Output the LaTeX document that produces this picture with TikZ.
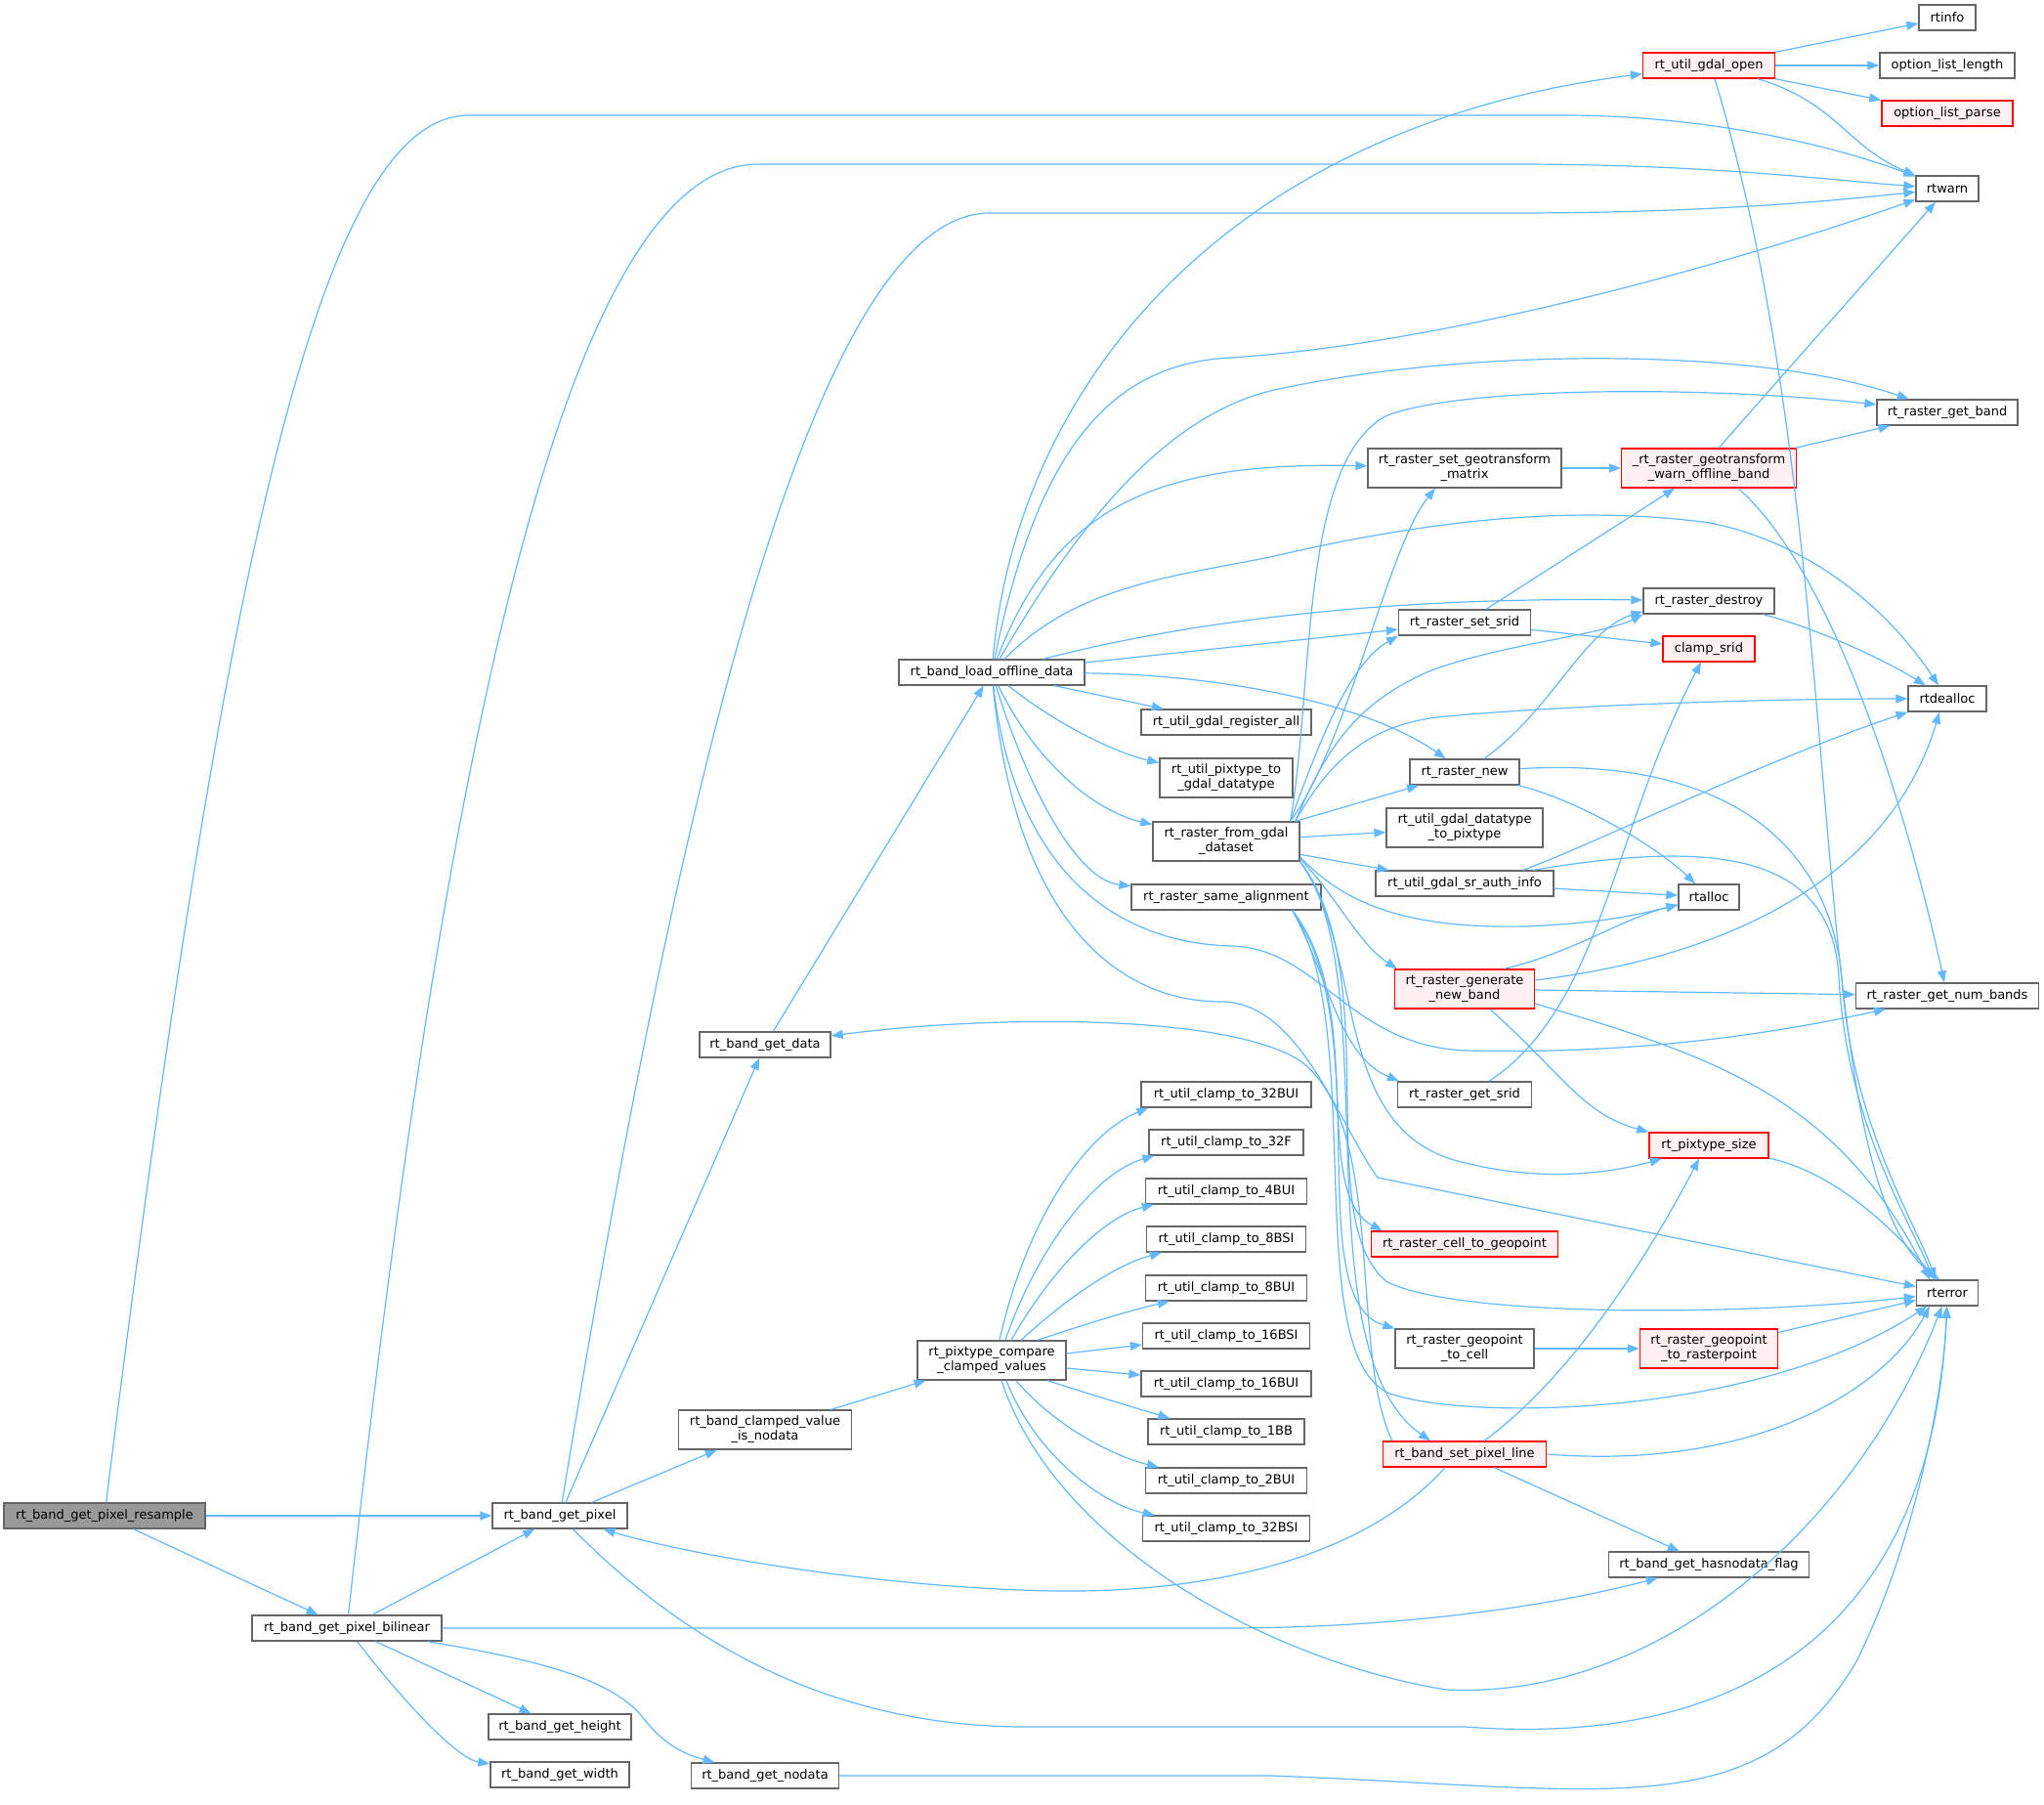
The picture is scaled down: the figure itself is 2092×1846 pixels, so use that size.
\documentclass[tikz,border=0pt]{standalone}
\usepackage{fontspec}
\setmainfont{DejaVu Sans}
\usetikzlibrary{arrows.meta}
\definecolor{edgecol}{RGB}{99,184,255}
\definecolor{nodeborder}{RGB}{102,102,102}
\definecolor{rootfill}{RGB}{153,153,153}
\definecolor{redfill}{RGB}{255,240,240}
\definecolor{redborder}{RGB}{255,0,0}
\newcommand{\nfont}{\fontsize{13}{15}\selectfont}
\begin{document}
\begin{tikzpicture}[x=1pt,y=-1pt,
  nbox/.style={draw=nodeborder, fill=white, line width=1.3pt, minimum height=26pt, inner sep=0pt, font=\nfont, align=center},
  tall/.style={minimum height=40pt},
  redbox/.style={nbox, draw=redborder, fill=redfill},
  rootbox/.style={nbox, fill=rootfill},
  conn/.style={draw=edgecol, line width=1.2pt, -{Triangle[length=12pt,width=9pt]}}]
\fill[white] (0,0) rectangle (2092,1846);
\useasboundingbox (0,0) rectangle (2092,1846);

% ---------- nodes ----------
\node[rootbox, minimum width=206pt] (res) at (107,1551) {rt\_band\_get\_pixel\_resample};
\node[nbox, minimum width=194pt] (bil) at (355,1666) {rt\_band\_get\_pixel\_bilinear};
\node[nbox, minimum width=138pt] (gp) at (573,1551) {rt\_band\_get\_pixel};
\node[nbox, minimum width=146pt] (ht) at (573,1767) {rt\_band\_get\_height};
\node[nbox, minimum width=142pt] (wd) at (573,1816) {rt\_band\_get\_width};
\node[nbox, minimum width=134pt] (gd) at (783,1069) {rt\_band\_get\_data};
\node[nbox, tall, minimum width=177pt] (cvn) at (783,1463) {rt\_band\_clamped\_value\\\_is\_nodata};
\node[nbox, minimum width=151pt] (nd) at (783,1817) {rt\_band\_get\_nodata};
\node[nbox, minimum width=190pt] (lo) at (1015,688) {rt\_band\_load\_offline\_data};
\node[nbox, tall, minimum width=152pt] (cmp) at (1015,1392) {rt\_pixtype\_compare\\\_clamped\_values};
\node[nbox, minimum width=174pt] (gra) at (1255,739) {rt\_util\_gdal\_register\_all};
\node[nbox, tall, minimum width=136pt] (p2g) at (1255,796) {rt\_util\_pixtype\_to\\\_gdal\_datatype};
\node[nbox, tall, minimum width=150pt] (fg) at (1255,861) {rt\_raster\_from\_gdal\\\_dataset};
\node[nbox, minimum width=194pt] (sa) at (1255,918) {rt\_raster\_same\_alignment};
\node[nbox, minimum width=174pt] (c1) at (1255,1120) {rt\_util\_clamp\_to\_32BUI};
\node[nbox, minimum width=158pt] (c2) at (1255,1169) {rt\_util\_clamp\_to\_32F};
\node[nbox, minimum width=165pt] (c3) at (1255,1219) {rt\_util\_clamp\_to\_4BUI};
\node[nbox, minimum width=163pt] (c4) at (1255,1268) {rt\_util\_clamp\_to\_8BSI};
\node[nbox, minimum width=165pt] (c5) at (1255,1318) {rt\_util\_clamp\_to\_8BUI};
\node[nbox, minimum width=171pt] (c6) at (1255,1367) {rt\_util\_clamp\_to\_16BSI};
\node[nbox, minimum width=174pt] (c7) at (1255,1416) {rt\_util\_clamp\_to\_16BUI};
\node[nbox, minimum width=160pt] (c8) at (1255,1465) {rt\_util\_clamp\_to\_1BB};
\node[nbox, minimum width=165pt] (c9) at (1255,1515) {rt\_util\_clamp\_to\_2BUI};
\node[nbox, minimum width=171pt] (c10) at (1255,1564) {rt\_util\_clamp\_to\_32BSI};
\node[nbox, tall, minimum width=198pt] (sgm) at (1499,479) {rt\_raster\_set\_geotransform\\\_matrix};
\node[nbox, minimum width=135pt] (sss) at (1499,637) {rt\_raster\_set\_srid};
\node[nbox, minimum width=112pt] (rn) at (1499,790) {rt\_raster\_new};
\node[nbox, tall, minimum width=160pt] (g2p) at (1499,847) {rt\_util\_gdal\_datatype\\\_to\_pixtype};
\node[nbox, minimum width=182pt] (sra) at (1499,904) {rt\_util\_gdal\_sr\_auth\_info};
\node[redbox, tall, minimum width=143pt] (gnb) at (1499,1012) {rt\_raster\_generate\\\_new\_band};
\node[nbox, minimum width=137pt] (gsr) at (1499,1120) {rt\_raster\_get\_srid};
\node[redbox, minimum width=191pt] (c2g) at (1499,1273) {rt\_raster\_cell\_to\_geopoint};
\node[nbox, tall, minimum width=142pt] (g2c) at (1499,1380) {rt\_raster\_geopoint\\\_to\_cell};
\node[redbox, minimum width=167pt] (spl) at (1499,1488) {rt\_band\_set\_pixel\_line};
\node[redbox, minimum width=135pt] (go) at (1749,67) {rt\_util\_gdal\_open};
\node[redbox, tall, minimum width=179pt] (wob) at (1749,479) {\_rt\_raster\_geotransform\\\_warn\_offline\_band};
\node[nbox, minimum width=134pt] (rd) at (1749,615) {rt\_raster\_destroy};
\node[redbox, minimum width=94pt] (cs) at (1749,664) {clamp\_srid};
\node[nbox, minimum width=62pt] (ra) at (1749,918) {rtalloc};
\node[redbox, minimum width=122pt] (ps) at (1749,1172) {rt\_pixtype\_size};
\node[redbox, tall, minimum width=141pt] (g2r) at (1749,1380) {rt\_raster\_geopoint\\\_to\_rasterpoint};
\node[nbox, minimum width=205pt] (hnf) at (1749,1601) {rt\_band\_get\_hasnodata\_flag};
\node[nbox, minimum width=58pt] (ri) at (1993,18) {rtinfo};
\node[nbox, minimum width=138pt] (oll) at (1993,67) {option\_list\_length};
\node[redbox, minimum width=134pt] (olp) at (1993,116) {option\_list\_parse};
\node[nbox, minimum width=64pt] (rw) at (1993,193) {rtwarn};
\node[nbox, minimum width=144pt] (rgb) at (1993,422) {rt\_raster\_get\_band};
\node[nbox, minimum width=80pt] (rdl) at (1993,715) {rtdealloc};
\node[nbox, minimum width=187pt] (nb) at (1993,1019) {rt\_raster\_get\_num\_bands};
\node[nbox, minimum width=63pt] (re) at (1993,1323) {rterror};

% ---------- edges ----------
% resample
\draw[conn] (res) -- (gp);
\draw[conn] (res) -- (bil);
\draw[conn] (res) .. controls (230,560) and (330,118) .. (480,118) -- (1600,118) .. controls (1750,118) and (1880,150) .. (rw);
% bilinear
\draw[conn] (bil) -- (gp);
\draw[conn] (bil) -- (ht);
\draw[conn] (bil) .. controls (420,1750) and (470,1800) .. (wd);
\draw[conn] (bil) .. controls (560,1700) and (630,1720) .. (660,1760) .. controls (680,1785) and (700,1795) .. (nd);
\draw[conn] (bil) -- (1250,1666) .. controls (1450,1666) and (1600,1640) .. (hnf);
\draw[conn] (bil) .. controls (440,900) and (560,168) .. (776,168) -- (1550,168) .. controls (1750,168) and (1880,185) .. (rw);
% get_pixel
\draw[conn] (gp) -- (gd);
\draw[conn] (gp) -- (cvn);
\draw[conn] (gp) .. controls (680,900) and (820,218) .. (1013,218) -- (1550,218) .. controls (1750,218) and (1880,205) .. (rw);
\draw[conn] (gp) .. controls (700,1680) and (850,1767) .. (1050,1767) -- (1500,1767) .. controls (1800,1790) and (1980,1650) .. (re);
% get_data, clamped, nodata
\draw[conn] (gd) -- (lo);
\draw[conn] (cvn) -- (cmp);
\draw[conn] (nd) -- (1300,1817) .. controls (1650,1830) and (1800,1870) .. (1900,1700) .. controls (1960,1580) and (1990,1420) .. (re);
% compare fan
\draw[conn] ([xshift=8pt]cmp.north) .. controls (1050,1250) and (1110,1160) .. ([xshift=8pt]c1.south west);
\draw[conn] ([xshift=14pt]cmp.north) .. controls (1060,1280) and (1120,1200) .. ([xshift=6pt]c2.south west);
\draw[conn] ([xshift=20pt]cmp.north) .. controls (1075,1300) and (1130,1245) .. ([xshift=9pt]c3.south west);
\draw[conn] ([xshift=30pt]cmp.north) .. controls (1090,1330) and (1140,1295) .. ([xshift=16pt]c4.south west);
\draw[conn] ([xshift=47pt]cmp.north) .. controls (1110,1355) and (1160,1340) .. ([xshift=25pt]c5.south west);
\draw[conn] ([yshift=7pt]cmp.east) -- ([yshift=-9pt]c6.west);
\draw[conn] ([yshift=-8pt]cmp.east) -- ([yshift=9pt]c7.west);
\draw[conn] ([xshift=57pt]cmp.south) .. controls (1110,1425) and (1160,1440) .. ([xshift=23pt]c8.north west);
\draw[conn] ([xshift=25pt]cmp.south) .. controls (1080,1460) and (1140,1490) .. ([xshift=14pt]c9.north west);
\draw[conn] ([xshift=15pt]cmp.south) .. controls (1060,1490) and (1130,1540) .. ([xshift=13pt]c10.north west);
\draw[conn] ([xshift=10pt]cmp.south) .. controls (1080,1580) and (1300,1700) .. (1480,1729) .. controls (1700,1740) and (1900,1560) .. (re);
% load_offline_data
\draw[conn] (lo) .. controls (1040,400) and (1250,130) .. (go);
\draw[conn] (lo) .. controls (1060,470) and (1130,372) .. (1260,366) .. controls (1500,350) and (1800,260) .. (rw);
\draw[conn] (lo) .. controls (1090,560) and (1180,430) .. (1300,400) .. controls (1500,355) and (1800,355) .. (rgb);
\draw[conn] (lo) .. controls (1080,520) and (1180,472) .. (sgm);
\draw[conn] (lo) .. controls (1100,600) and (1200,590) .. (1300,570) .. controls (1450,535) and (1600,515) .. (1750,535) .. controls (1850,555) and (1930,620) .. (rdl);
\draw[conn] (lo) .. controls (1200,640) and (1400,610) .. (rd);
\draw[conn] (lo) -- (sss);
\draw[conn] (lo) .. controls (1250,690) and (1400,720) .. (rn);
\draw[conn] (lo) -- (gra);
\draw[conn] (lo) .. controls (1080,740) and (1140,770) .. (p2g);
\draw[conn] (lo) .. controls (1060,780) and (1120,830) .. (fg);
\draw[conn] (lo) .. controls (1050,800) and (1100,900) .. (sa);
\draw[conn] (lo) .. controls (1040,900) and (1150,965) .. (1260,968) .. controls (1350,970) and (1380,1070) .. (1500,1075) .. controls (1700,1080) and (1850,1050) .. (nb);
\draw[conn] (lo) .. controls (1040,950) and (1150,1025) .. (1250,1025) .. controls (1330,1025) and (1370,1150) .. (1410,1205) -- (re);
% from_gdal_dataset
\draw[conn] ([xshift=-10pt]fg.north east) .. controls (1380,760) and (1420,560) .. ([xshift=-30pt]sgm.south);
\draw[conn] ([xshift=-10pt]fg.north east) .. controls (1345,700) and (1330,470) .. (1420,425) .. controls (1500,395) and (1750,395) .. (rgb);
\draw[conn] ([xshift=-5pt]fg.north east) .. controls (1360,760) and (1390,720) .. (1460,688) .. controls (1530,660) and (1640,650) .. (rd.south west);
\draw[conn] ([xshift=-5pt]fg.north east) .. controls (1360,780) and (1400,740) .. (1480,733) .. controls (1600,722) and (1800,715) .. (rdl);
\draw[conn] ([xshift=-10pt]fg.north east) .. controls (1350,760) and (1380,680) .. (sss.south west);
\draw[conn] (fg) -- (rn);
\draw[conn] (fg) -- (g2p);
\draw[conn] (fg) -- (sra);
\draw[conn] ([yshift=5pt]fg.south east) .. controls (1380,930) and (1450,950) .. (1560,948) .. controls (1640,945) and (1680,935) .. (ra);
\draw[conn] ([yshift=3pt]fg.south east) .. controls (1370,920) and (1390,965) .. ([xshift=3pt]gnb.north west);
\draw[conn] (fg.south east) .. controls (1420,1000) and (1330,1380) .. ([xshift=-35pt]spl.north);
\draw[conn] (fg.south east) .. controls (1420,1000) and (1340,1250) .. (1420,1312) .. controls (1500,1350) and (1800,1345) .. (re);
\draw[conn] (fg.south east) .. controls (1400,980) and (1360,1160) .. (1500,1190) .. controls (1580,1210) and (1650,1200) .. (ps);
% same_alignment
\draw[conn] ([xshift=-30pt]sa.south east) .. controls (1360,1000) and (1370,1080) .. ([xshift=2pt]gsr.north west);
\draw[conn] ([xshift=-30pt]sa.south east) .. controls (1400,1030) and (1340,1220) .. ([xshift=12pt]c2g.north west);
\draw[conn] ([xshift=-30pt]sa.south east) .. controls (1410,1050) and (1330,1330) .. (g2c.north west);
\draw[conn] ([xshift=-30pt]sa.south east) .. controls (1400,1050) and (1330,1380) .. (1420,1425) .. controls (1500,1455) and (1800,1450) .. (re);
% srid & geotransform
\draw[conn] ([xshift=25pt]gsr.north) .. controls (1640,1030) and (1650,850) .. ([xshift=-8pt]cs.south);
\draw[conn] (sss) -- (cs);
\draw[conn] ([xshift=22pt]sss.north) -- ([xshift=-35pt]wob.south);
\draw[conn] (sgm) -- (wob);
\draw[conn] ([xshift=10pt]wob.north) -- (rw);
\draw[conn] (wob) -- (rgb);
\draw[conn] ([xshift=30pt]wob.south) .. controls (1870,580) and (1945,800) .. (nb);
% gdal_open
\draw[conn] (go) -- (ri);
\draw[conn] (go) -- (oll);
\draw[conn] (go) -- (olp);
\draw[conn] ([xshift=50pt]go.south) .. controls (1880,105) and (1890,150) .. (rw);
\draw[conn] ([xshift=6pt]go.south) .. controls (1900,560) and (1840,1200) .. ([xshift=-8pt]re.north);
% destroy / new / sr_auth
\draw[conn] (rd) .. controls (1850,640) and (1920,670) .. (rdl);
\draw[conn] ([xshift=20pt]rn.north) .. controls (1590,725) and (1620,645) .. ([yshift=3pt]rd.south west);
\draw[conn] (rn) .. controls (1620,820) and (1700,870) .. (ra);
\draw[conn] (rn) .. controls (1750,775) and (1870,850) .. (1885,1000) .. controls (1895,1150) and (1960,1250) .. ([xshift=-12pt]re.north);
\draw[conn] (sra) -- (ra);
\draw[conn] ([xshift=60pt]sra.north) .. controls (1640,860) and (1800,780) .. (rdl);
\draw[conn] ([xshift=70pt]sra.north) .. controls (1750,860) and (1875,870) .. (1882,1000) .. controls (1890,1150) and (1955,1250) .. ([xshift=-14pt]re.north);
% generate_new_band
\draw[conn] (gnb) -- (nb);
\draw[conn] ([yshift=9pt]gnb.east) .. controls (1800,975) and (1940,880) .. ([xshift=-8pt]rdl.south);
\draw[conn] ([xshift=40pt]gnb.north) .. controls (1610,975) and (1660,940) .. (ra);
\draw[conn] ([yshift=-15pt]gnb.east) .. controls (1750,1080) and (1880,1120) .. ([xshift=-18pt]re.north);
\draw[conn] ([xshift=26pt]gnb.south) .. controls (1600,1100) and (1620,1140) .. (ps.north west);
% set_pixel_line
\draw[conn] (spl) -- (hnf);
\draw[conn] ([xshift=20pt]spl.north) .. controls (1620,1400) and (1700,1260) .. ([xshift=-10pt]ps.south);
\draw[conn] (spl.east) .. controls (1800,1505) and (1930,1420) .. ([xshift=-18pt]re.south);
\draw[conn] ([xshift=-20pt]spl.south) .. controls (1400,1590) and (1250,1630) .. (1080,1628) .. controls (900,1625) and (700,1590) .. (gp);
\draw[conn] ([xshift=10pt]spl.north west) .. controls (1380,1380) and (1420,1150) .. (1330,1085) .. controls (1250,1035) and (1000,1040) .. (gd);
% misc
\draw[conn] (ps) .. controls (1880,1200) and (1940,1260) .. (re);
\draw[conn] (g2c) -- (g2r);
\draw[conn] (g2r) -- (re);
\end{tikzpicture}
\end{document}
